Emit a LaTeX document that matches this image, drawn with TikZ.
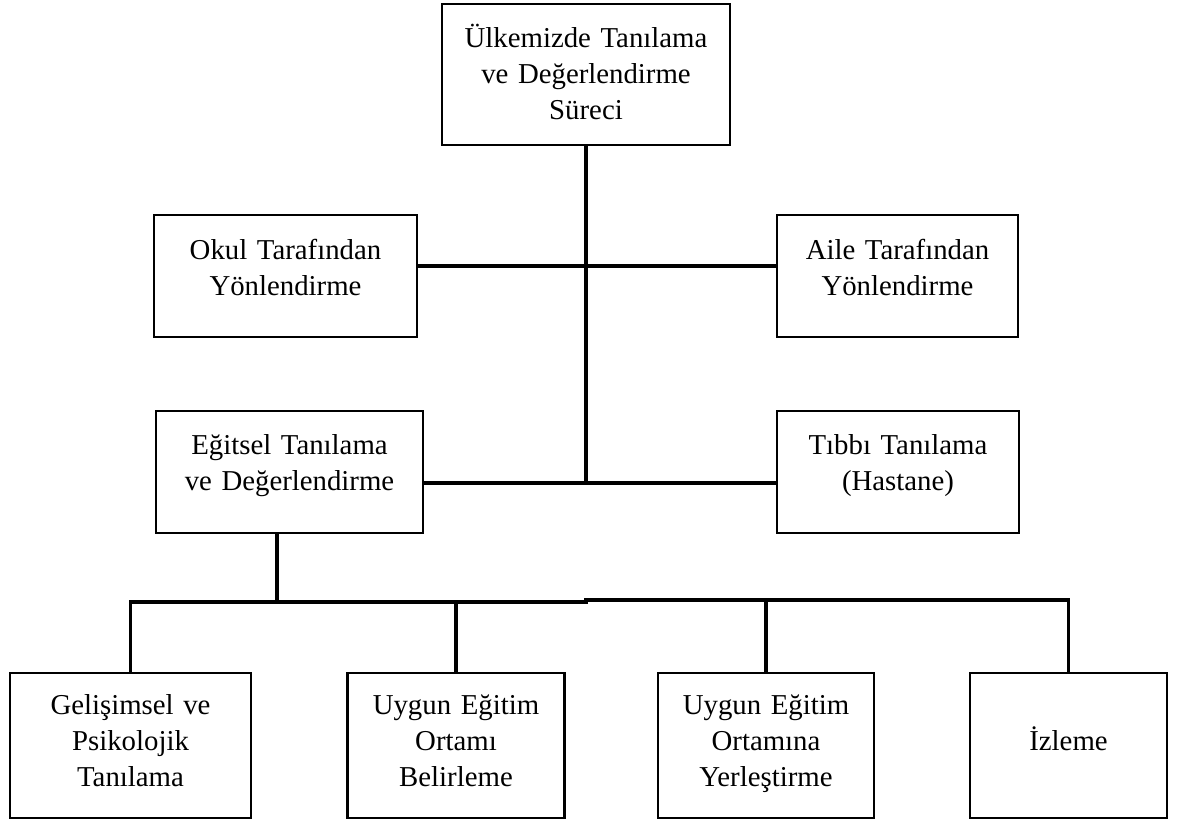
\documentclass[tikz,border=0pt]{standalone}
\usepackage{fontspec}
\setmainfont{Liberation Serif}
\begin{document}
\begin{tikzpicture}[x=0.5pt,y=-0.5pt,
  kutu/.style={draw, line width=1.1pt, align=center, inner sep=0pt, text height=10pt,
    font=\fontsize{14.4}{18}\selectfont},
  hat/.style={line width=1.6pt}]
  \useasboundingbox (0,0) rectangle (1185,821);

  % ust kutu
  \node[kutu, minimum width=144pt, minimum height=70.5pt, text width=138pt, text depth=37.5pt]
    (surec) at (586,74.5) {Ülkemizde Tanılama\\ve Değerlendirme\\Süreci};

  % yonlendirme
  \node[kutu, minimum width=131.5pt, minimum height=61pt, text width=126pt, text depth=27pt]
    (okul) at (285.5,276) {Okul Tarafından\\Yönlendirme};
  \node[kutu, minimum width=120.5pt, minimum height=61pt, text width=116pt, text depth=27pt]
    (aile) at (897.5,276) {Aile Tarafından\\Yönlendirme};

  % tanilama
  \node[kutu, minimum width=133.5pt, minimum height=61pt, text width=128pt, text depth=28pt]
    (egitsel) at (289.5,472) {Eğitsel Tanılama\\ve Değerlendirme};
  \node[kutu, minimum width=121pt, minimum height=61pt, text width=116pt, text depth=28pt]
    (tibbi) at (898,472) {Tıbbı Tanılama\\(Hastane)};

  % alt kutular
  \node[kutu, minimum width=120.5pt, minimum height=72.5pt, text width=116pt, text depth=41.5pt]
    (gelisim) at (130.5,745.5) {Gelişimsel ve\\Psikolojik\\Tanılama};
  \node[kutu, minimum width=108.5pt, minimum height=72.5pt, text width=104pt, text depth=41.5pt]
    (belirle) at (456,745.5) {Uygun Eğitim\\Ortamı\\Belirleme};
  \node[kutu, minimum width=108pt, minimum height=72.5pt, text width=104pt, text depth=41.5pt]
    (yerles) at (766,745.5) {Uygun Eğitim\\Ortamına\\Yerleştirme};
  \node[kutu, minimum width=98.5pt, minimum height=72.5pt, text width=94pt, text depth=5.5pt]
    (izle) at (1068.5,745.5) {İzleme};

  \coordinate (j1) at (586,266);
  \coordinate (j2) at (586,483);
  \coordinate (ek) at (277,602);
  \coordinate (bus) at (586,602);
  \coordinate (busR) at (586,600);

  \draw[hat] (surec.south) -- (j2);
  \draw[hat] (okul.east |- j1) -- (aile.west |- j1);
  \draw[hat] (egitsel.east |- j2) -- (tibbi.west |- j2);
  \draw[hat] (egitsel.south -| ek) -- (ek);
  \draw[hat] (gelisim.north) |- (bus) -- (busR) -| (izle.north);
  \draw[hat] (belirle.north) -- (belirle.north |- bus);
  \draw[hat] (yerles.north) -- (yerles.north |- busR);
\end{tikzpicture}
\end{document}
